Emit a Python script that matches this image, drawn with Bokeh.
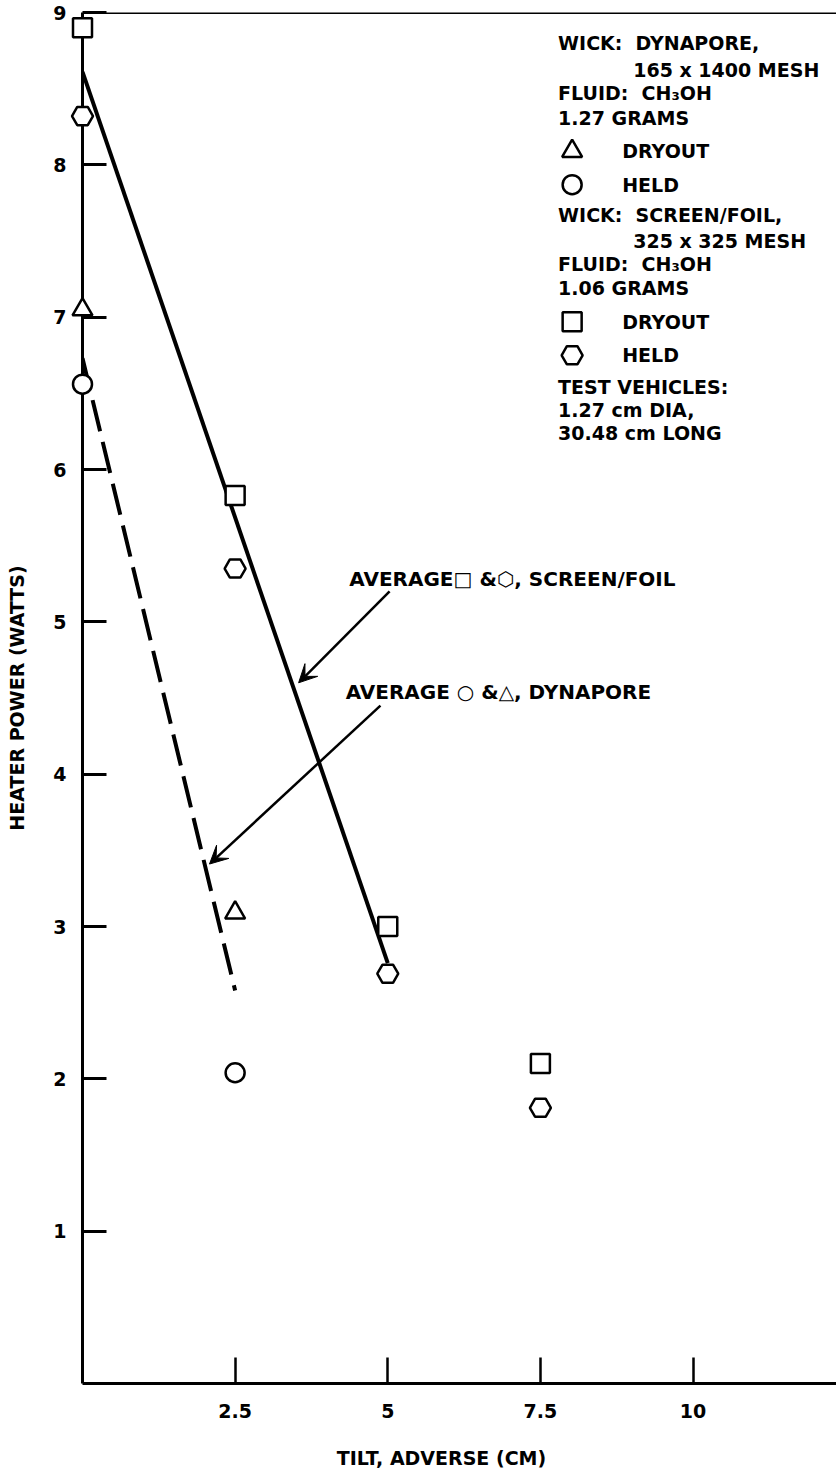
from bokeh.plotting import figure
from bokeh.models import (ColumnDataSource, FixedTicker, Span, Arrow, VeeHead, Range1d)
from bokeh.core.properties import value
from bokeh.embed import file_html
from bokeh.resources import INLINE

# ---------------- data ----------------
# Dynapore wick
dyn_dryout_tilt = [0.0, 2.5]
dyn_dryout_power = [7.05, 3.09]
dyn_held_tilt = [0.0, 2.5]
dyn_held_power = [6.56, 2.04]
# Screen/foil wick
sf_dryout_tilt = [0.0, 2.5, 5.0, 7.5]
sf_dryout_power = [8.90, 5.83, 3.00, 2.10]
sf_held_tilt = [0.0, 2.5, 5.0, 7.5]
sf_held_power = [8.32, 5.35, 2.69, 1.81]
# average lines
avg_sf_tilt = [0.0, 5.0]
avg_sf_power = [8.61, 2.76]
avg_dyn_tilt = [0.0, 2.5]
avg_dyn_power = [6.73, 2.58]

x_ticks = [2.5, 5, 7.5, 10]
x_tick_labels = ["2.5", "5", "7.5", "10"]
y_ticks = [1, 2, 3, 4, 5, 6, 7, 8, 9]

NB = "\u00a0"
legend_lines = ["WICK:" + NB * 2 + "DYNAPORE,", "165 x 1400 MESH", "FLUID:" + NB * 2 + "CH\u2083OH",
                "1.27 GRAMS", "DRYOUT", "HELD",
                "WICK:" + NB * 2 + "SCREEN/FOIL,", "325 x 325 MESH", "FLUID:" + NB * 2 + "CH\u2083OH",
                "1.06 GRAMS", "DRYOUT", "HELD",
                "TEST VEHICLES:", "1.27 cm DIA,", "30.48 cm LONG"]
note_sf = "AVERAGE\u25a1 &\u2b21, SCREEN/FOIL"
note_dyn = "AVERAGE \u25cb &\u25b3, DYNAPORE"
x_title = "TILT, ADVERSE (CM)"
y_title = "HEATER POWER (WATTS)"

# ---------------- layout constants ----------------
FONT_NAME = "DejaVu Sans"
FONT = value(FONT_NAME)
leg_x = [7.79, 9.02, 7.79, 7.79, 8.84, 8.84, 7.79, 9.02, 7.79, 7.79, 8.84, 8.84, 7.79, 7.79, 7.79]
leg_y = [8.80, 8.62, 8.47, 8.31, 8.09, 7.87, 7.67, 7.50, 7.35, 7.19, 6.97, 6.75, 6.54, 6.39, 6.24]
leg_mk_x = 8.02
leg_mk_y = {"triangle": 8.09, "circle": 7.87, "square": 6.97, "hex": 6.75}

p = figure(width=836, height=1470, x_range=Range1d(0, 12.35), y_range=Range1d(0, 9),
           output_backend="svg", toolbar_location=None,
           min_border_left=82, min_border_right=0, min_border_top=12, min_border_bottom=87)
p.outline_line_color = None
p.grid.visible = False
p.background_fill_color = "white"

# axes
for ax in (p.xaxis[0], p.yaxis[0]):
    ax.axis_line_width = 3
    ax.axis_line_color = "black"
    ax.major_tick_out = 0
    ax.minor_tick_line_color = None
    ax.major_label_text_font = FONT_NAME
    ax.major_label_text_font_style = "bold"
    ax.major_label_text_font_size = "19px"
    ax.major_label_text_color = "black"

p.yaxis.ticker = FixedTicker(ticks=y_ticks)
p.yaxis.major_tick_in = 24
p.yaxis.major_tick_line_width = 3
p.yaxis.major_label_standoff = 16
p.yaxis.axis_label = y_title
p.yaxis.axis_label_text_font = FONT_NAME
p.yaxis.axis_label_text_font_style = "bold"
p.yaxis.axis_label_text_font_size = "19px"
p.yaxis.axis_label_text_color = "black"
p.yaxis.axis_label_standoff = 22

p.xaxis.ticker = FixedTicker(ticks=x_ticks)
p.xaxis.major_label_overrides = {t: s for t, s in zip(x_ticks, x_tick_labels)}
p.xaxis.major_tick_in = 26
p.xaxis.major_tick_line_width = 2.5
p.xaxis.major_label_standoff = 20

# top border
p.add_layout(Span(location=9, dimension="width", line_color="black", line_width=3))

# average lines
p.line(avg_sf_tilt, avg_sf_power, line_color="black", line_width=4)
p.line(avg_dyn_tilt, avg_dyn_power, line_color="black", line_width=4, line_dash="32 11")

# data markers
mk = dict(fill_color="white", line_color="black", line_width=2.5, level="overlay")
p.scatter(dyn_dryout_tilt, dyn_dryout_power, marker="triangle", size=20, **mk)
p.scatter(dyn_held_tilt, dyn_held_power, marker="circle", size=19, **mk)
p.scatter(sf_dryout_tilt, sf_dryout_power, marker="square", size=19, **mk)
p.scatter(sf_held_tilt, sf_held_power, marker="hex", size=21, **mk)

# legend block
p.scatter([leg_mk_x], [leg_mk_y["triangle"]], marker="triangle", size=20, **mk)
p.scatter([leg_mk_x], [leg_mk_y["circle"]], marker="circle", size=19, **mk)
p.scatter([leg_mk_x], [leg_mk_y["square"]], marker="square", size=19, **mk)
p.scatter([leg_mk_x], [leg_mk_y["hex"]], marker="hex", size=21, **mk)
leg_src = ColumnDataSource(dict(x=leg_x, y=leg_y, t=legend_lines))
p.text(x="x", y="y", text="t", source=leg_src, text_font=FONT, text_font_style="bold",
       text_font_size="19px", text_baseline="middle", text_align="left", text_color="black")

# notes
note_src = ColumnDataSource(dict(x=[4.37, 4.31], y=[5.28, 4.54], t=[note_sf, note_dyn]))
p.text(x="x", y="y", text="t", source=note_src, text_font=FONT, text_font_style="bold",
       text_font_size="20px", text_baseline="middle", text_align="left", text_color="black")

arr_src = ColumnDataSource(dict(x0=[5.03, 4.88], y0=[5.20, 4.45], x1=[3.54, 2.08], y1=[4.60, 3.41]))
p.add_layout(Arrow(end=VeeHead(size=18, fill_color="black", line_color="black"),
                   x_start="x0", y_start="y0", x_end="x1", y_end="y1", source=arr_src,
                   line_color="black", line_width=2.5))

# x-axis title (below the frame, drawn unclipped)
p.text(x=[5.88], y=[-0.486], text=[x_title], text_align="center", text_baseline="middle",
       text_font=FONT, text_font_style="bold", text_font_size="19px",
       text_color="black", level="overlay")

open("out.html", "w").write(file_html(p, INLINE))
